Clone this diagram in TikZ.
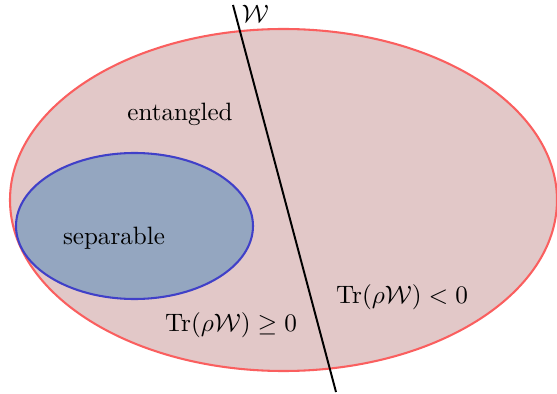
\documentclass[tikz,border=0pt]{standalone}
\usepackage{amsmath,amssymb}
\usepackage{tikz}
\usetikzlibrary{shapes.geometric,positioning,calc}
\usepackage{xcolor}

\definecolor{entfill}{RGB}{226,200,200}
\definecolor{entdraw}{RGB}{250,95,95}
\definecolor{sepfill}{RGB}{148,166,192}
\definecolor{sepdraw}{RGB}{64,64,200}

\begin{document}
\begin{tikzpicture}[
  x=0.4345pt, y=-0.4345pt,
  region/.style={ellipse, line width=0.9pt, inner sep=0pt},
  lbl/.style={font=\fontsize{10.9}{13}\selectfont, inner sep=1pt},
  wit/.style={line width=0.85pt, black},
]
\useasboundingbox (0,0) rectangle (557,394);

% ─── Sets ───
\node[region, draw=entdraw, fill=entfill, minimum width=547*0.4345pt, minimum height=342*0.4345pt] (ent) at (283.5,200) {};
\node[region, draw=sepdraw, fill=sepfill, minimum width=237*0.4345pt, minimum height=146*0.4345pt] (sep) at (134.5,226) {};

% ─── Witness hyperplane ───
\coordinate (wtop) at (233,5);
\coordinate (wbot) at (336,392);
\draw[wit] (wtop) -- (wbot);
\node[lbl, anchor=west] (wlab) at (239,14) {$\mathcal{W}$};

% ─── Labels ───
\node[lbl] (entlab) at (180,114) {entangled};
\node[lbl] (seplab) at (114,238) {separable};
\node[lbl] (pos) at (231,325) {$\mathrm{Tr}(\rho\mathcal{W})\geq 0$};
\node[lbl] (neg) at (402,297) {$\mathrm{Tr}(\rho\mathcal{W})<0$};

\end{tikzpicture}
\end{document}
